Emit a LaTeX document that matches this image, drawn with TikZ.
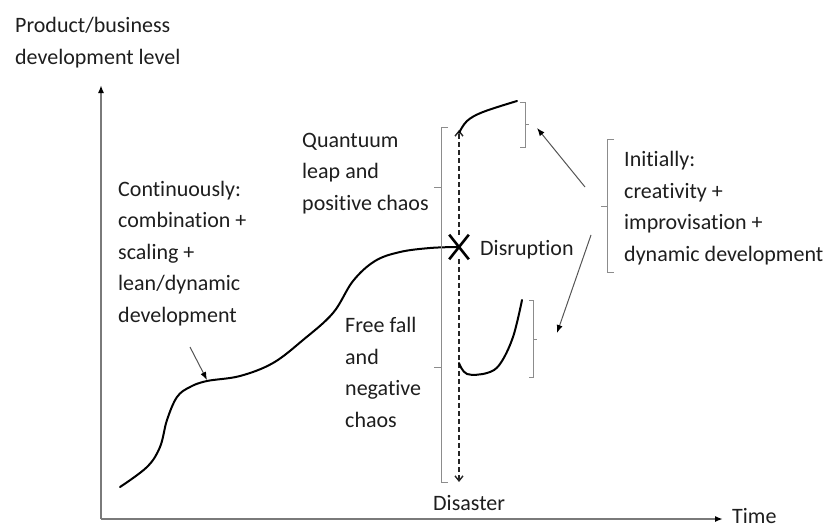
\documentclass[tikz,border=0pt]{standalone}
\usepackage{fontspec}
\setmainfont{Carlito}[Ligatures=NoCommon]
\usetikzlibrary{arrows.meta,shapes.misc}
\definecolor{txt}{HTML}{1E1E1E}
\definecolor{axisgray}{HTML}{7A7A7A}
\definecolor{bracegray}{HTML}{8C8C8C}
\definecolor{pointer}{HTML}{555555}
\tikzset{
  lbl/.style={anchor=base west, inner sep=0pt, align=left, text=txt,
    font=\fontsize{22}{31.5}\selectfont},
  axisline/.style={draw=axisgray, line width=1.6pt, -{Latex[length=8pt,width=6pt,black]}},
  growth/.style={draw=black, line width=2pt, line cap=round},
  brace/.style={draw=bracegray, line width=1pt},
  pointerarrow/.style={draw=pointer, line width=1pt, -{Latex[length=8pt,width=6pt,black]}},
  jump/.style={draw=black!85, line width=1.4pt, dash pattern=on 5pt off 3pt,
    -{Straight Barb[length=5pt,width=8pt]}},
}
\begin{document}
\begin{tikzpicture}[x=1pt,y=-1pt]
\useasboundingbox (0,0) rectangle (826,527);
% axes
\coordinate (O) at (101,519);
\coordinate (ytop) at (101,85);
\coordinate (xend) at (723,519);
\draw[axisline] (O) -- (ytop);
\draw[axisline] (O) -- (xend);
% multi-line labels are placed by the baseline of their last line
\node[lbl] (ylab) at (15,64) {Product/business\\development level};
\node[lbl] (xlab) at (732,523) {Time};

% main growth curve
\draw[growth] plot[smooth, tension=0.6] coordinates {
 (120,487) (147,467) (160,447) (167,420) (177,397) (190,387) (207,381)
 (240,376) (273,363) (303,340) (333,313) (353,281) (375,261) (400,252)
 (430,248) (457,247)};

% disruption mark
\node[cross out, draw=black, line width=2.6pt, minimum width=17pt,
  minimum height=22pt, inner sep=0pt] (X) at (459,247) {};
\node[lbl] (disr) at (480,255) {Disruption};

% dashed jumps
\coordinate (up) at (459,130);
\coordinate (down) at (459,482);
\draw[jump] (X.north) -- (up);
\draw[jump] (X.south) -- (down);
\node[lbl] (disaster) at (433,510) {Disaster};

% upper and lower branches
\draw[growth] plot[smooth, tension=0.6] coordinates {
 (459,133) (467,121) (483,112) (517,101)};
\draw[growth] plot[smooth, tension=0.6] coordinates {
 (459,363) (467,374) (487,373) (500,364) (513,337) (522,300)};

% braces
\draw[brace] (448,127) -- (441,127) -- (441,482) -- (448,482);
\draw[brace] (441,187) -- (434,187);
\draw[brace] (441,367) -- (434,367);
\draw[brace] (520,102) -- (525,102) -- (525,147) -- (520,147);
\draw[brace] (525,124) -- (529,124);
\draw[brace] (529,300) -- (533,300) -- (533,377) -- (529,377);
\draw[brace] (533,339) -- (537,339);
\draw[brace] (614,139) -- (607,139) -- (607,272) -- (614,272);
\draw[brace] (607,206) -- (601,206);

% labels
\node[lbl] (cont) at (118,322) {Continuously:\\combination +\\scaling +\\lean/dynamic\\development};
\node[lbl] (quant) at (302,210) {Quantuum\\leap and\\positive chaos};
\node[lbl] (free) at (345,427) {Free fall\\and\\negative\\chaos};
\node[lbl] (init) at (624,261) {Initially:\\creativity +\\improvisation +\\dynamic development};

% pointer arrows
\coordinate (p1s) at (585,187);
\coordinate (p1e) at (537,128);
\coordinate (p2s) at (591,235);
\coordinate (p2e) at (557,333);
\coordinate (p3s) at (190,347);
\coordinate (p3e) at (207,380);
\draw[pointerarrow] (p1s) -- (p1e);
\draw[pointerarrow] (p2s) -- (p2e);
\draw[pointerarrow] (p3s) -- (p3e);
\end{tikzpicture}
\end{document}
